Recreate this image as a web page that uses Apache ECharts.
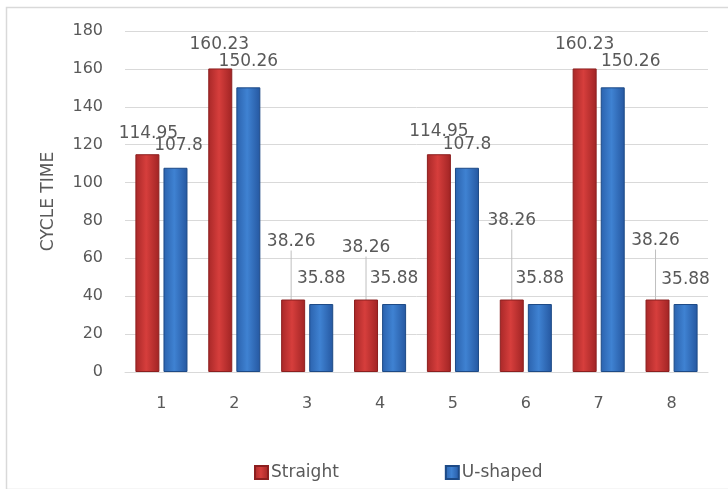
<!DOCTYPE html>
<html>
<head>
<meta charset="utf-8">
<script src="https://cdn.jsdelivr.net/npm/echarts@6/dist/echarts.min.js"></script>
<style>html,body{margin:0;padding:0;background:#fff;}#c{width:728px;height:489px;}</style>
</head>
<body>
<div id="c"></div>
<script>
var categories = ['1', '2', '3', '4', '5', '6', '7', '8'];
var straight = [114.95, 160.23, 38.26, 38.26, 114.95, 38.26, 160.23, 38.26];
var ushaped = [107.8, 150.26, 35.88, 35.88, 107.8, 35.88, 150.26, 35.88];
var seriesNames = ['Straight', 'U-shaped'];
var yTicks = [0, 20, 40, 60, 80, 100, 120, 140, 160, 180];

// label placement (style only)
var labelShift = [
  [[1, -7], [-1, -10], [-2, -44], [0, -38], [0, -9], [0, -65], [0, -10], [-2, -45]],
  [[3, -9], [0, -12], [0, -12], [0, -12], [0, -10], [0, -12], [18, -12], [0, -11]]
];
var leaderOn = [[false, false, true, true, false, true, false, true],
                [false, false, false, false, false, false, false, false]];

var FONT = 'DejaVu Sans';
var TXT = '#595959';

function grad(c1, c2, c3) {
  return new echarts.graphic.LinearGradient(0, 0, 1, 0, [
    {offset: 0, color: c1}, {offset: 0.45, color: c2}, {offset: 1, color: c3}
  ]);
}
var redFill = grad('#a82828', '#d63e3c', '#a02424');
var blueFill = grad('#2b62ad', '#3f82d2', '#2557a0');

function items(vals, s) {
  return vals.map(function (v, i) {
    return {value: v, labelLine: {show: leaderOn[s][i]}};
  });
}

var chart = echarts.init(document.getElementById('c'), null, {renderer: 'canvas'});
chart.setOption({
  backgroundColor: '#ffffff',
  animation: false,
  graphic: [{
    type: 'rect', left: 4, top: 5, silent: true, z: -1,
    shape: {width: 740, height: 482},
    style: {fill: 'none', stroke: '#d9d9d9', lineWidth: 1.5}
  }],
  grid: {left: 125, right: 20, top: 31, bottom: 117},
  legend: {
    left: 249, top: 459, itemWidth: 13, itemHeight: 13, itemGap: 106,
    icon: 'rect',
    textStyle: {fontFamily: FONT, fontSize: 17, color: TXT, padding: [0, 0, 0, -2]},
    data: seriesNames
  },
  xAxis: {
    type: 'category', data: categories,
    axisLine: {lineStyle: {color: '#d9d9d9', width: 1}},
    axisTick: {show: false},
    axisLabel: {fontFamily: FONT, fontSize: 16, color: TXT, margin: 24}
  },
  yAxis: {
    type: 'value', min: yTicks[0], max: yTicks[yTicks.length - 1], interval: 20,
    name: 'CYCLE TIME', nameLocation: 'middle', nameGap: 68, nameRotate: 90,
    nameTextStyle: {fontFamily: FONT, fontSize: 17, color: TXT},
    axisLine: {show: false}, axisTick: {show: false},
    axisLabel: {fontFamily: FONT, fontSize: 16, color: TXT, margin: 22},
    splitLine: {lineStyle: {color: '#d9d9d9', width: 1}}
  },
  series: [
    {
      name: seriesNames[0], type: 'bar', data: items(straight, 0),
      barWidth: 24, barGap: '17%',
      itemStyle: {color: redFill, borderColor: '#8c1f1f', borderWidth: 1},
      label: {show: true, position: 'top', distance: 5, fontFamily: FONT, fontSize: 17, color: TXT},
      labelLine: {show: false, lineStyle: {color: '#bfbfbf', width: 1}},
      labelLayout: function (p) {
        var o = labelShift[0][p.dataIndex];
        return {dx: o[0], dy: o[1]};
      }
    },
    {
      name: seriesNames[1], type: 'bar', data: items(ushaped, 1),
      barWidth: 24, barGap: '17%',
      itemStyle: {color: blueFill, borderColor: '#1d4a86', borderWidth: 1},
      label: {show: true, position: 'top', distance: 5, fontFamily: FONT, fontSize: 17, color: TXT},
      labelLine: {show: false, lineStyle: {color: '#bfbfbf', width: 1}},
      labelLayout: function (p) {
        var o = labelShift[1][p.dataIndex];
        return {dx: o[0], dy: o[1]};
      }
    }
  ]
});
</script>
</body>
</html>
